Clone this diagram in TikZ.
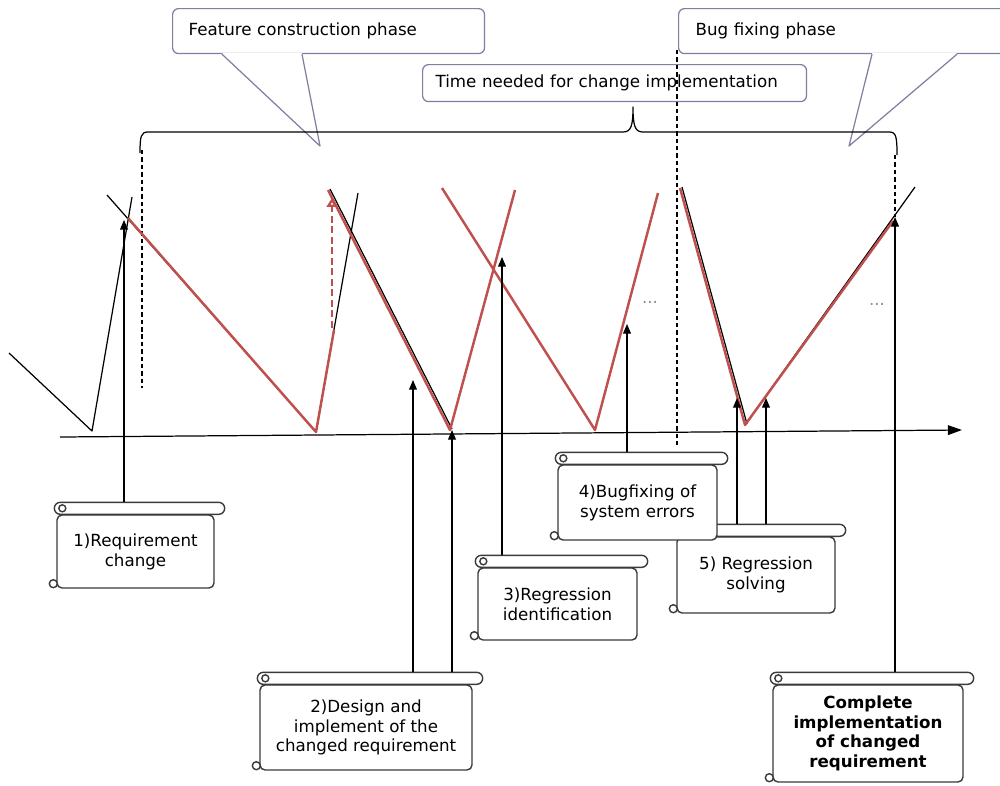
\documentclass[tikz,border=0pt]{standalone}
\usepackage{fontspec}
\setmainfont{DejaVu Sans}
\usetikzlibrary{arrows.meta, calc}
\definecolor{curve}{HTML}{C0504D}
\definecolor{calloutborder}{HTML}{7F7F9F}
\definecolor{scrollborder}{HTML}{3A3A3A}

% rod, curls of a scroll drawn round its body node
\newcommand{\scrollrod}[1]{%
  \draw[scrl, fill=white, rounded corners=0.12cm] ($(#1.north west)+(-2,-12)$) rectangle ($(#1.north east)+(10,0)$);
  \draw[scrl] ($(#1.north west)+(6,-6)$) circle[radius=0.07cm];
  \draw[scrl, fill=white] ($(#1.south west)+(-3,-5)$) circle[radius=0.08cm];
}

\begin{document}
\begin{tikzpicture}[
    x=0.02cm, y=-0.02cm,
    >={Triangle[length=5.5pt, width=4.5pt]},
    txt/.style={font=\fontsize{9.5}{11.3}\selectfont},
    callout/.style={txt, draw=calloutborder, fill=white, rounded corners=0.12cm,
                    line width=0.7pt, anchor=north west, align=left},
    pointer/.style={draw=calloutborder, line width=0.7pt, line join=round},
    scroll/.style={txt, draw=scrollborder, fill=white, line width=0.8pt,
                   rounded corners=0.1cm, align=center, inner sep=0pt},
    scrl/.style={draw=scrollborder, line width=0.8pt},
    blk/.style={line width=0.7pt, line join=round},
    rd/.style={draw=curve, line width=1.4pt, line join=round},
    guide/.style={dashed, dash pattern=on 2.5pt off 1.7pt, line width=0.6pt},
    arr/.style={->, line width=0.6pt},
    dots/.style={txt, text=black!45},
]
\useasboundingbox (0,0) rectangle (1000,785);
\clip (0,0) rectangle (1000,785);

% phase callouts
\node[callout, minimum height=0.9cm, inner xsep=0.32cm, text width=5.6cm] (fcp) at (172,8) {Feature construction phase};
\coordinate (fcptip) at (320,146);
\fill[white] ($(fcp.south west)+(50,-1.2)$) -- (fcptip) -- ($(fcp.south west)+(130,-1.2)$) -- cycle;
\draw[pointer] ($(fcp.south west)+(50,0)$) -- (fcptip) -- ($(fcp.south west)+(130,0)$);

\node[callout, minimum height=0.9cm, inner xsep=0.34cm, text width=6.5cm] (bfp) at (678,8) {Bug fixing phase};
\coordinate (bfptip) at (849,146);
\fill[white] ($(bfp.south west)+(194,-1.2)$) -- (bfptip) -- ($(bfp.south west)+(279,-1.2)$) -- cycle;
\draw[pointer] ($(bfp.south west)+(194,0)$) -- (bfptip) -- ($(bfp.south west)+(279,0)$);

\node[callout, minimum height=0.74cm, inner xsep=0.26cm, text width=7.16cm] (tnc) at (422,64) {Time needed for change implementation};

% brace
\draw[blk] (140,153) .. controls (140,136) and (141,132) .. (148,132) -- (623,132)
  .. controls (631,132) and (633,126) .. (633,107) .. controls (633,126) and (635,132) .. (643,132)
  -- (889,132) .. controls (896,132) and (897,136) .. (897,155);

% arrow tips
\coordinate (t1) at (124,220);
\coordinate (t2a) at (413,380);
\coordinate (t2b) at (452,430);
\coordinate (t3) at (502,257);
\coordinate (t4) at (627,324);
\coordinate (t5a) at (737,398);
\coordinate (t5b) at (766,398);
\coordinate (t6) at (895,217);

% guides
\draw[guide] (142,150) -- (142,388);
\draw[guide] (677,50) -- (677,448);
\draw[guide] (895,155) -- (t6);

% time axis
\coordinate (ax0) at (60,437);
\coordinate (ax1) at (962,430);
\draw[line width=0.7pt, -{Triangle[length=8pt, width=5.5pt]}] (ax0) -- (ax1);

% curves
\draw[blk] (9,353) -- (92,431) -- (132,197);
\draw[blk] (107,195) -- (316,432) -- (358,193);
\draw[blk] (330,189) -- (452,429);
\draw[blk] (682,187) -- (747,424);
\draw[blk] (745,425) -- (915,187);

\draw[rd] (128,218) -- (316,432) -- (334,330);
\draw[rd] (328,190) -- (450,430) -- (515,190);
\draw[rd] (442,188) -- (595,430) -- (658,193);
\draw[rd] (680,188) -- (745,425) -- (893,221);

\coordinate (rdb) at (332,328);
\coordinate (rdt) at (332,198);
\draw[rd, dashed, dash pattern=on 4pt off 2pt, -{Triangle[open, length=5pt, width=6pt]}] (rdb) -- (rdt);

\node[dots] (d1) at (650,302) {...};
\node[dots] (d2) at (877,304) {...};

% scrolls
\node[scroll, minimum width=3.14cm, minimum height=1.46cm] (req) at (135.5,551.5) {1)Requirement\\change};
\scrollrod{req}
\node[scroll, minimum width=4.24cm, minimum height=1.7cm] (des) at (366,727.5) {2)Design and\\implement of the\\changed requirement};
\scrollrod{des}
\node[scroll, minimum width=3.18cm, minimum height=1.44cm] (reg) at (557.5,604) {3)Regression\\identification};
\scrollrod{reg}
\node[scroll, minimum width=3.16cm, minimum height=1.52cm] (sol) at (756,575) {5) Regression\\solving};
\scrollrod{sol}
\node[scroll, minimum width=3.18cm, minimum height=1.5cm] (bug) at (637.5,502.5) {4)Bugfixing of\\system errors};
\scrollrod{bug}
\node[scroll, minimum width=3.8cm, minimum height=1.94cm, font=\fontsize{9.5}{11.2}\selectfont\bfseries] (done) at (868,733.5) {Complete\\implementation\\of changed\\requirement};
\scrollrod{done}

% arrows
\draw[arr] ($(req.north -| t1)+(0,-12)$) -- (t1);
\draw[arr] ($(des.north -| t2a)+(0,-12)$) -- (t2a);
\draw[arr] ($(des.north -| t2b)+(0,-12)$) -- (t2b);
\draw[arr] ($(reg.north -| t3)+(0,-12)$) -- (t3);
\draw[arr] ($(bug.north -| t4)+(0,-12)$) -- (t4);
\draw[arr] ($(sol.north -| t5a)+(0,-12)$) -- (t5a);
\draw[arr] ($(sol.north -| t5b)+(0,-12)$) -- (t5b);
\draw[arr] ($(done.north -| t6)+(0,-12)$) -- (t6);

\end{tikzpicture}
\end{document}
